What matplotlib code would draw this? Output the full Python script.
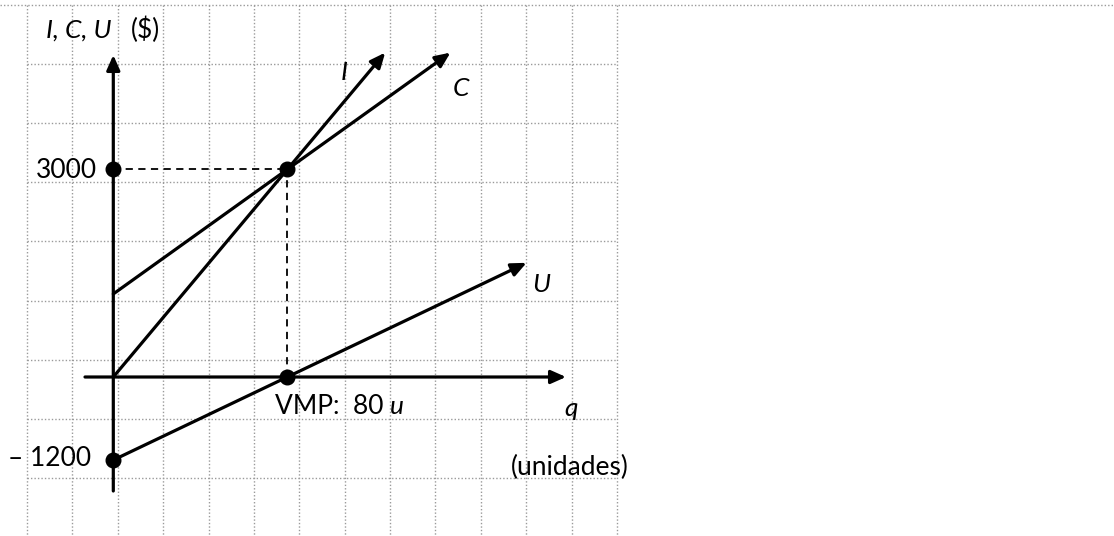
import matplotlib
matplotlib.use("Agg")
import matplotlib.pyplot as plt
import numpy as np

# ---- data ----
vmp_q = 80                 # punto muerto (unidades)
vmp_value = 3000           # ingreso = costo en VMP ($)
fixed_cost = 1200          # costo fijo ($)
price = vmp_value / vmp_q  # 37.5 $/u
unit_cost = (vmp_value - fixed_cost) / vmp_q  # 22.5 $/u
q_end = {"I": 125, "C": 155, "U": 190}
labels_y = [3000, -1200]

W, H = 1114, 536
fig = plt.figure(figsize=(W / 100, H / 100), dpi=100)
plt.rcParams['font.family'] = ['Lato', 'DejaVu Sans']

# background grid axes (pixel coordinates)
bg = fig.add_axes([0, 0, 1, 1])
bg.set_xlim(0, W)
bg.set_ylim(H, 0)
bg.axis('off')
gx = np.linspace(27, 617, 14)
gy = np.arange(5, 540, 59.1)
gstyle = dict(color='#9a9a9a', lw=1.0, ls=(0, (1, 1.5)))
for x in gx:
    bg.plot([x, x], [5, H], **gstyle)
for i, y in enumerate(gy):
    bg.plot([27 if i else 0, W if i == 0 else 617], [y, y], **gstyle)

# main axes in data coordinates
ox, oy = 113.3, 377.0          # pixel origin
sx, sy = 2.175, 0.0692         # px per unit, px per $
ax = fig.add_axes([0, 0, 1, 1])
ax.patch.set_alpha(0)
ax.axis('off')
ax.set_xlim(-ox / sx, (W - ox) / sx)
ax.set_ylim(-(H - oy) / sy, oy / sy)

def P(px, py):
    return (px - ox) / sx, (oy - py) / sy

arrow_kw = dict(arrowstyle='-|>,head_length=0.9,head_width=0.4', lw=2.3,
                color='black', shrinkA=0, shrinkB=0)

# coordinate axes
ax.annotate('', xy=P(566, oy), xytext=P(85, oy), arrowprops=arrow_kw)
ax.annotate('', xy=P(ox, 55), xytext=P(ox, 491), arrowprops=arrow_kw)

# lines
def I(q): return price * q
def C(q): return fixed_cost + unit_cost * q
def U(q): return I(q) - C(q)

for name, f in [("I", I), ("C", C), ("U", U)]:
    qe = q_end[name]
    ax.annotate('', xy=(qe, f(qe)), xytext=(0, f(0)), arrowprops=arrow_kw)

# dashed guides
ax.plot([0, vmp_q], [vmp_value, vmp_value], color='black', lw=1.3, ls=(0, (4, 3)))
ax.plot([vmp_q, vmp_q], [0, vmp_value], color='black', lw=1.3, ls=(0, (4, 3)))

# points
ax.plot([0, vmp_q, vmp_q, 0], [vmp_value, vmp_value, 0, -fixed_cost], 'o',
        color='black', ms=10.5, zorder=5)

fs = 19
ax.text(*P(46, 30), 'I, C, U', fontsize=fs, style='italic', ha='left', va='center')
ax.text(*P(160, 30), '($)', fontsize=fs, ha='right', va='center')
ax.text(*P(97, 170), f'{labels_y[0]}', fontsize=fs, ha='right', va='center')
ax.text(*P(91, 459), f'\u2013 {abs(labels_y[1])}', fontsize=fs, ha='right', va='center')
ax.text(*P(344, 73), 'I', fontsize=fs, style='italic', ha='center', va='center')
ax.text(*P(461, 88), 'C', fontsize=fs, style='italic', ha='center', va='center')
ax.text(*P(541, 284), 'U', fontsize=fs, style='italic', ha='center', va='center')
ax.text(*P(571, 408), 'q', fontsize=fs, style='italic', ha='center', va='center')
ax.text(*P(570, 467), '(unidades)', fontsize=fs, ha='center', va='center')
ax.text(*P(275, 407), f'VMP:  {vmp_q}', fontsize=fs, ha='left', va='center')
ax.text(*P(390, 407), 'u', fontsize=fs, style='italic', ha='left', va='center')

fig.savefig('out.png', dpi=100)
